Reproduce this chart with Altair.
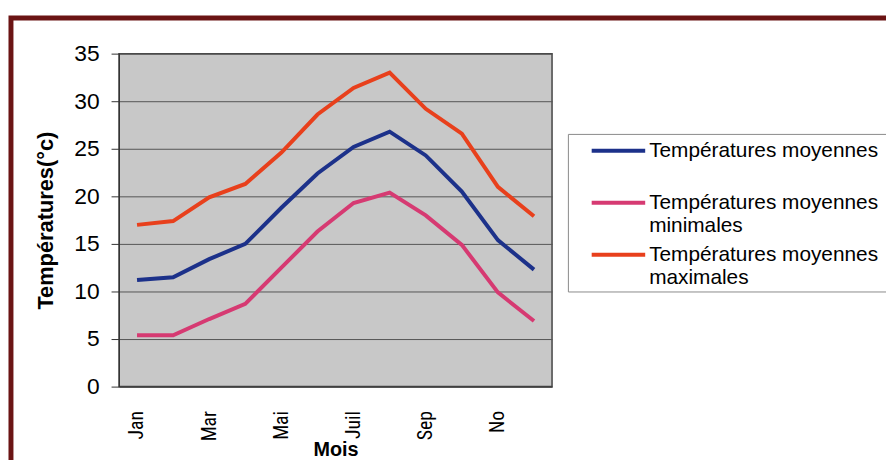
import altair as alt
import pandas as pd

months = ["Jan", "Fév", "Mar", "Avr", "Mai", "Juin", "Juil", "Août", "Sep", "Oct", "No", "Déc"]
shown_months = ["Jan", "Mar", "Mai", "Juil", "Sep", "No"]
series_names = [
    "Températures moyennes",
    "Températures moyennes minimales",
    "Températures moyennes maximales",
]
moyennes = [11.2, 11.5, 13.4, 15.0, 18.8, 22.4, 25.2, 26.8, 24.3, 20.5, 15.4, 12.3]
minimales = [5.4, 5.4, 7.1, 8.7, 12.5, 16.3, 19.3, 20.4, 18.0, 14.9, 9.9, 6.9]
maximales = [17.0, 17.4, 19.9, 21.3, 24.6, 28.6, 31.4, 33.0, 29.2, 26.6, 21.0, 17.9]
colors = ["#1c318a", "#d63a72", "#e8401c"]
y_ticks = [0, 5, 10, 15, 20, 25, 30, 35]

rows = []
for name, vals in zip(series_names, [moyennes, minimales, maximales]):
    for i, (m, v) in enumerate(zip(months, vals)):
        rows.append({"Mois": m, "idx": i, "Série": name, "Valeur": v})
df = pd.DataFrame(rows)

# decorative outer frame of the chart
frame = alt.Chart(alt.Data(values=[{"f": 1}])).mark_rect(
    filled=False, stroke="#6b1414", strokeWidth=5
).encode(
    x=alt.value(-109), y=alt.value(-36), x2=alt.value(900), y2=alt.value(600)
)

# decorative legend box
legend_box = alt.Chart(alt.Data(values=[{"f": 1}])).mark_rect(
    fill="white", stroke="#8a8a8a", strokeWidth=1
).encode(
    x=alt.value(453.5), y=alt.value(81.5), x2=alt.value(780), y2=alt.value(240.5)
)

label_expr = (
    "datum.label == 'Températures moyennes' ? ['Températures moyennes', ' '] : "
    "split(replace(datum.label, 'moyennes ', 'moyennes|'), '|')"
)

lines = alt.Chart(df).mark_line(strokeWidth=4).encode(
    x=alt.X(
        "Mois:N",
        sort=months,
        scale=alt.Scale(domain=months),
        axis=alt.Axis(
            values=shown_months,
            labelAngle=270,
            ticks=False,
            labelPadding=24,
            labelFont="Liberation Sans Narrow, Roboto Condensed, DejaVu Sans Condensed, Liberation Sans, sans-serif",
            labelFontSize=20,
            title="Mois",
            titleFontWeight="bold",
            titleFontSize=20,
            titleY=54,
            titleBaseline="top",
            grid=False,
        ),
    ),
    y=alt.Y(
        "Valeur:Q",
        scale=alt.Scale(domain=[0, 35], nice=False),
        axis=alt.Axis(
            values=y_ticks,
            title="Températures(°c)",
            titleFontWeight="bold",
            titleFontSize=22,
            titleX=-62,
            tickSize=8,
            labelPadding=12,
            labelFontSize=23,
        ),
    ),
    color=alt.Color(
        "Série:N",
        scale=alt.Scale(domain=series_names, range=colors),
        legend=alt.Legend(
            orient="none",
            legendX=455,
            legendY=86,
            title=None,
            symbolType="M-2.7,0H2.7",
            symbolSize=400,
            symbolStrokeWidth=4,
            labelFontSize=21,
            labelLimit=500,
            labelOffset=19,
            labelExpr=label_expr,
            labelBaseline="middle",
            padding=0,
            symbolOffset=37,
            rowPadding=7.5,
        ),
    ),
    order=alt.Order("idx:Q"),
)

chart = alt.layer(frame, legend_box, lines).properties(
    width=437,
    height=336,
    autosize=alt.AutoSizeParams(type="none"),
    padding={"left": 112, "top": 44, "right": 337, "bottom": 72},
    background="white",
).configure(
    font="Liberation Sans"
).configure_view(
    fill="#c8c8c8", stroke="#444444", strokeWidth=1.5
).configure_axis(
    gridColor="#555555",
    gridWidth=1,
    domainColor="#333333",
    tickColor="#333333",
    labelColor="black",
    titleColor="black",
)

chart.save("out.html", embed_options={"renderer": "svg", "actions": False})
